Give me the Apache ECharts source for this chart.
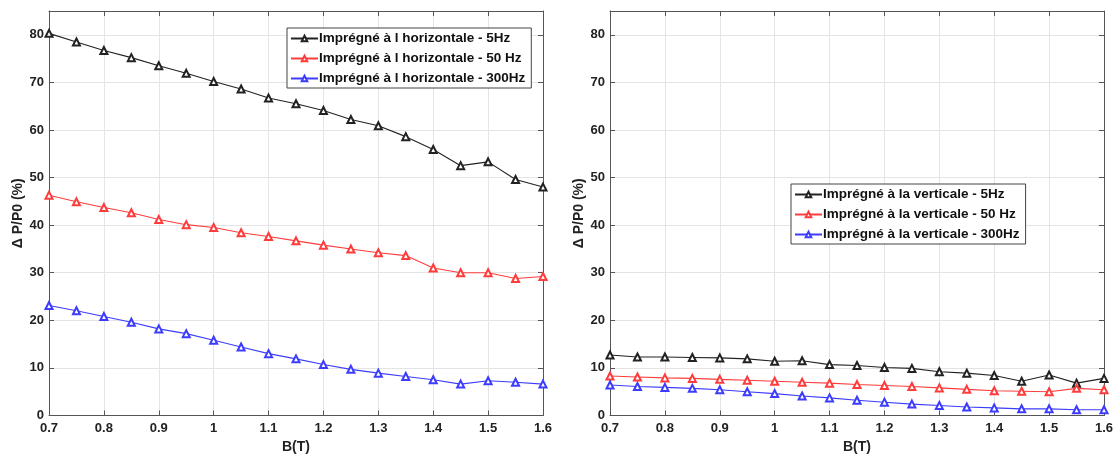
<!DOCTYPE html>
<html>
<head>
<meta charset="utf-8">
<script src="https://cdn.jsdelivr.net/npm/echarts@6/dist/echarts.min.js"></script>
<style>
html,body{margin:0;padding:0;background:#fff;}
#chart{width:1120px;height:464px;}
</style>
</head>
<body>
<div id="chart"></div>
<script>
// ---- data ----
const B = [0.7,0.75,0.8,0.85,0.9,0.95,1.0,1.05,1.1,1.15,1.2,1.25,1.3,1.35,1.4,1.45,1.5,1.55,1.6];

const horiz5   = [80.3,78.5,76.7,75.2,73.5,71.9,70.2,68.6,66.7,65.5,64.1,62.2,60.9,58.6,55.9,52.5,53.3,49.6,48.0];
const horiz50  = [46.3,44.9,43.7,42.6,41.2,40.1,39.5,38.4,37.6,36.7,35.8,35.0,34.2,33.6,31.0,30.0,30.0,28.8,29.2];
const horiz300 = [23.1,22.0,20.8,19.6,18.2,17.2,15.8,14.4,13.0,11.9,10.7,9.7,8.9,8.2,7.5,6.6,7.3,7.0,6.6];

const vert5   = [12.7,12.3,12.3,12.2,12.1,11.9,11.4,11.5,10.7,10.5,10.1,9.9,9.2,8.9,8.4,7.2,8.5,6.8,7.8];
const vert50  = [8.3,8.1,7.9,7.8,7.6,7.4,7.2,7.0,6.8,6.5,6.3,6.1,5.8,5.5,5.2,5.1,5.0,5.7,5.4];
const vert300 = [6.4,6.1,5.9,5.7,5.4,5.0,4.6,4.1,3.7,3.2,2.8,2.4,2.1,1.8,1.6,1.4,1.4,1.2,1.2];

const namesH = ['Imprégné à l horizontale - 5Hz','Imprégné à l horizontale - 50 Hz','Imprégné à l horizontale - 300Hz'];
const namesV = ['Imprégné à la verticale - 5Hz','Imprégné à la verticale - 50 Hz','Imprégné à la verticale - 300Hz'];
const xTitle = 'B(T)';
const yTitle = 'Δ P/P0 (%)';
const colors = ['#222222','#ff3c3c','#3c3cff'];

// ---- styling ----
const FONT = '"Liberation Sans", Arial, sans-serif';
const axisCol = '#555';
const gridCol = '#e4e4e4';

function pairs(ys){ return B.map((b,i)=>[b,ys[i]]); }

function xAxes(gi){
  return [
    { gridIndex: gi, type:'value', min:0.7, max:1.6, interval:0.1, position:'bottom',
      name: xTitle, nameLocation:'middle', nameGap:25,
      nameTextStyle:{fontFamily:FONT,fontWeight:'bold',fontSize:14,color:'#222'},
      axisLine:{show:true,onZero:false,lineStyle:{color:axisCol,width:1}},
      axisTick:{show:true,inside:true,length:5,lineStyle:{color:axisCol}},
      axisLabel:{fontFamily:FONT,fontWeight:'bold',fontSize:13,color:'#222',margin:6,
        formatter:v=>String(Math.round(v*10)/10)},
      splitLine:{show:true,lineStyle:{color:gridCol,width:1}}
    },
    { gridIndex: gi, type:'value', min:0.7, max:1.6, interval:0.1, position:'top',
      axisLine:{show:true,onZero:false,lineStyle:{color:axisCol,width:1}},
      axisTick:{show:true,inside:true,length:5,lineStyle:{color:axisCol}},
      axisLabel:{show:false}, splitLine:{show:false}
    }
  ];
}
function yAxes(gi){
  return [
    { gridIndex: gi, type:'value', min:0, max:85, interval:10, position:'left',
      name: yTitle, nameLocation:'middle', nameGap:22, nameRotate:90,
      nameTextStyle:{fontFamily:FONT,fontWeight:'bold',fontSize:14,color:'#222'},
      axisLine:{show:true,onZero:false,lineStyle:{color:axisCol,width:1}},
      axisTick:{show:true,inside:true,length:5,lineStyle:{color:axisCol}},
      axisLabel:{fontFamily:FONT,fontWeight:'bold',fontSize:13,color:'#222',margin:5,showMaxLabel:false},
      splitLine:{show:true,lineStyle:{color:gridCol,width:1}}
    },
    { gridIndex: gi, type:'value', min:0, max:85, interval:10, position:'right',
      axisLine:{show:true,onZero:false,lineStyle:{color:axisCol,width:1}},
      axisTick:{show:true,inside:true,length:5,lineStyle:{color:axisCol}},
      axisLabel:{show:false}, splitLine:{show:false}
    }
  ];
}
function mkSeries(name, ys, color, xi, yi){
  return {
    name, type:'line', xAxisIndex:xi, yAxisIndex:yi, data:pairs(ys),
    symbol:'emptyTriangle', symbolSize:7, showAllSymbol:true,
    color: color,
    lineStyle:{color:color,width:1.1},
    itemStyle:{color:color,borderColor:color,borderWidth:1},
    animation:false
  };
}
function mkLegend(names, left, top){
  return {
    orient:'vertical', left:left, top:top, data:names,
    itemWidth:27, itemHeight:7, itemGap:5,
    padding:[3,6,2,3],
    itemStyle:{color:'inherit', borderWidth:1},
    borderColor:'#444', borderWidth:1, backgroundColor:'#fff',
    textStyle:{fontFamily:FONT,fontWeight:'bold',fontSize:13.5,lineHeight:15,color:'#111',padding:[0,0,0,-4]},
    selectedMode:false
  };
}

const chart = echarts.init(document.getElementById('chart'), null, {renderer:'canvas'});
chart.setOption({
  animation:false,
  backgroundColor:'#fff',
  grid:[
    {left:49, top:11, width:494, height:404.5},
    {left:610, top:11, width:494, height:404.5}
  ],
  xAxis:[...xAxes(0), ...xAxes(1)],
  yAxis:[...yAxes(0), ...yAxes(1)],
  legend:[ mkLegend(namesH, 287, 28), mkLegend(namesV, 791, 184) ],
  series:[
    mkSeries(namesH[0], horiz5,   colors[0], 0, 0),
    mkSeries(namesH[1], horiz50,  colors[1], 0, 0),
    mkSeries(namesH[2], horiz300, colors[2], 0, 0),
    mkSeries(namesV[0], vert5,    colors[0], 2, 2),
    mkSeries(namesV[1], vert50,   colors[1], 2, 2),
    mkSeries(namesV[2], vert300,  colors[2], 2, 2)
  ]
});
</script>
</body>
</html>
